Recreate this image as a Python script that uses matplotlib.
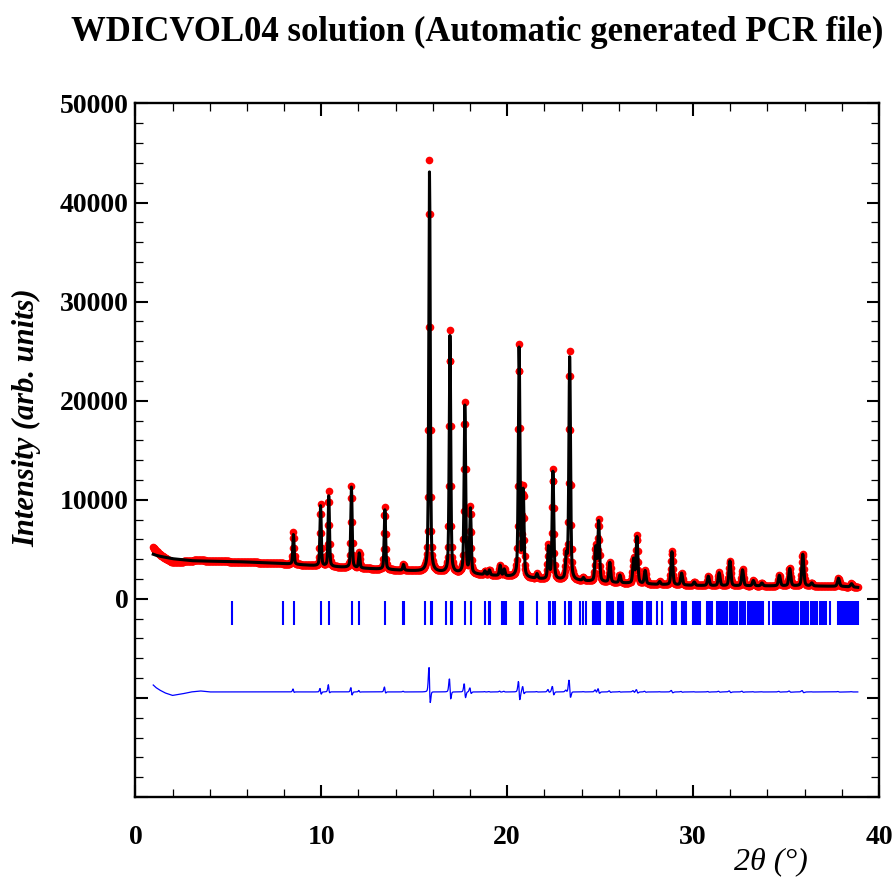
import numpy as np
import matplotlib
matplotlib.use("Agg")
import matplotlib.pyplot as plt
from matplotlib.ticker import MultipleLocator, FuncFormatter

# background (2theta, counts)
bg_x = [0.96, 1.1, 1.3, 1.6, 2.0, 2.5, 3.0, 3.5, 4.0, 5.5, 8.0, 10.0, 12.0, 14.0, 16.0,
        18.0, 20.0, 22.0, 24.0, 26.0, 28.0, 30.0, 32.0, 34.0, 36.0, 38.0, 38.86]
bg_calc = [4500, 4400, 4300, 4200, 4050, 3950, 3850, 3820, 3800, 3750, 3550, 3300, 3100, 2900, 2700,
           2500, 2250, 1950, 1800, 1600, 1450, 1350, 1300, 1300, 1300, 1250, 1150]
bg_obs = [5200, 4850, 4500, 4100, 3700, 3750, 3850, 3920, 3800, 3750, 3550, 3300, 3100, 2900, 2700,
          2500, 2250, 1950, 1800, 1600, 1450, 1350, 1300, 1300, 1300, 1250, 1150]

# peak positions and apex intensities (observed / calculated)
peak_pos = [8.50, 9.96, 10.40, 11.62, 12.04, 13.42, 14.42, 15.82, 16.92, 17.72, 18.02, 18.80,
            19.04, 19.62, 19.84, 20.64, 20.86, 21.60, 22.22, 22.46, 23.18, 23.36, 24.10, 24.76,
            24.92, 25.52, 26.06, 26.80, 26.98, 27.42, 28.20, 28.86, 29.38, 30.06, 30.82, 31.40,
            31.98, 32.66, 33.24, 33.70, 34.64, 35.20, 35.90, 36.38, 37.82, 38.52]
peak_obs = [6700, 9500, 10900, 11400, 4700, 9300, 3500, 44300, 27100, 19700, 9200, 2800,
            2900, 3400, 3000, 25500, 11000, 2500, 5300, 13000, 4200, 24900, 2100, 5200,
            7900, 3700, 2400, 4000, 6300, 2850, 1750, 4800, 2600, 1700, 2300, 2650,
            3850, 2950, 1850, 1600, 2400, 3100, 4550, 1600, 2100, 1550]
peak_calc = [6500, 9400, 10400, 11300, 4600, 9000, 3450, 43200, 26600, 19500, 9000, 2780,
             2880, 3350, 2950, 25300, 10700, 2480, 5150, 12800, 4100, 24400, 2080, 5100,
             7750, 3650, 2380, 3950, 6200, 2820, 1730, 4750, 2580, 1690, 2280, 2620,
             3820, 2920, 1840, 1590, 2370, 3050, 4500, 1590, 2080, 1530]

# Bragg reflection positions
bragg_pos = [5.21, 7.96, 8.53, 9.97, 10.41, 11.63, 12.05, 13.43, 14.38, 14.44, 15.58, 15.90,
             15.96, 16.71, 16.98, 17.03, 17.73, 18.03, 18.80, 19.01, 19.06, 19.72, 19.78, 19.84,
             19.90, 19.96, 20.68, 20.74, 20.80, 20.86, 21.59, 22.27, 22.33, 22.45, 22.51, 22.57,
             23.11, 23.33, 23.38, 23.43, 23.92, 24.10, 24.22, 24.64, 24.70, 24.80, 24.90, 24.98,
             25.36, 25.44, 25.52, 25.62, 25.70, 25.98, 26.06, 26.14, 26.24, 26.78, 26.86, 26.94,
             27.02, 27.10, 27.18, 27.23, 27.50, 27.58, 27.66, 27.72, 28.04, 28.31, 28.86, 28.94,
             29.02, 29.10, 29.38, 29.46, 29.54, 29.64, 30.02, 30.10, 30.18, 30.26, 30.36, 30.76,
             30.84, 30.92, 31.00, 31.28, 31.36, 31.44, 31.52, 31.60, 31.68, 31.76, 31.85, 31.96,
             32.04, 32.12, 32.20, 32.28, 32.35, 32.50, 32.58, 32.66, 32.74, 32.79, 32.98, 33.06,
             33.14, 33.22, 33.30, 33.36, 33.42, 33.52, 33.60, 33.68, 33.77, 34.10, 34.28, 34.40,
             34.48, 34.56, 34.64, 34.72, 34.80, 34.88, 34.96, 35.03, 35.13, 35.21, 35.29, 35.37,
             35.45, 35.53, 35.60, 35.66, 35.80, 35.88, 35.96, 36.04, 36.12, 36.20, 36.34, 36.42,
             36.50, 36.58, 36.65, 36.84, 36.92, 37.00, 37.08, 37.15, 37.36, 37.82, 37.90, 37.98,
             38.06, 38.14, 38.20, 38.26, 38.36, 38.44, 38.52, 38.60, 38.68, 38.76, 38.84, 38.89]

diff_offset = -9400
calc_shift = 0.003


def pseudo_voigt(x, pos, fwhm, eta=0.4):
    u = (x - pos) / fwhm
    return eta / (1 + 4 * u ** 2) + (1 - eta) * np.exp(-4 * np.log(2) * u ** 2)


# step scan and profiles
two_theta = np.arange(0.96, 38.87, 0.02)
y_obs = np.interp(two_theta, bg_x, bg_obs)
y_calc = np.interp(two_theta, bg_x, bg_calc)
for p, ho, hc in zip(peak_pos, peak_obs, peak_calc):
    b = np.interp(p, bg_x, bg_calc)
    w = 0.07 + 0.0015 * p
    y_obs += (ho - b) * pseudo_voigt(two_theta, p, w)
    y_calc += (hc - b) * pseudo_voigt(two_theta, p + calc_shift, w)

plt.rcParams["font.family"] = ["Liberation Serif", "DejaVu Serif"]

fig = plt.figure(figsize=(8.96, 8.86), dpi=100)
ax = fig.add_axes([0.1511, 0.1005, 0.8299, 0.7827])

ax.plot(two_theta, y_obs, "o", color="red", ms=5.5, mew=0)
ax.plot(two_theta, y_calc, color="black", lw=2.2)
ax.vlines(bragg_pos, -2600, -200, color="blue", lw=1.5)
ax.plot(two_theta, y_obs - y_calc + diff_offset, color="blue", lw=0.9)

ax.set_xlim(0, 40)
ax.set_ylim(-20000, 50000)
ax.xaxis.set_major_locator(MultipleLocator(10))
ax.xaxis.set_minor_locator(MultipleLocator(2))
ax.yaxis.set_major_locator(MultipleLocator(10000))
ax.yaxis.set_minor_locator(MultipleLocator(2000))
ax.yaxis.set_major_formatter(FuncFormatter(lambda v, _: "%d" % v if v >= 0 else ""))

ax.tick_params(which="both", direction="in", top=True, right=True)
ax.tick_params(which="major", length=9, width=1.5)
ax.tick_params(which="minor", length=5.5, width=0.9)
ax.tick_params(axis="x", which="major", pad=20, labelsize=20)
ax.tick_params(axis="y", which="major", pad=5, labelsize=20)
for lbl in ax.get_xticklabels() + ax.get_yticklabels():
    lbl.set_fontweight("bold")
for s in ax.spines.values():
    s.set_linewidth(1.7)

fig.text(477 / 896, 1 - 32 / 886, "WDICVOL04 solution (Automatic generated PCR file)",
         ha="center", va="center", fontsize=25, fontweight="bold")
fig.text(27 / 896, 1 - 418 / 886, "Intensity (arb. units)", rotation=90,
         ha="center", va="center", fontsize=22, fontweight="bold", fontstyle="italic")
fig.text(771 / 896, 1 - 862 / 886, "2θ (°)", ha="center", va="center",
         fontsize=23, fontstyle="italic")

fig.savefig("out.png", dpi=100)
